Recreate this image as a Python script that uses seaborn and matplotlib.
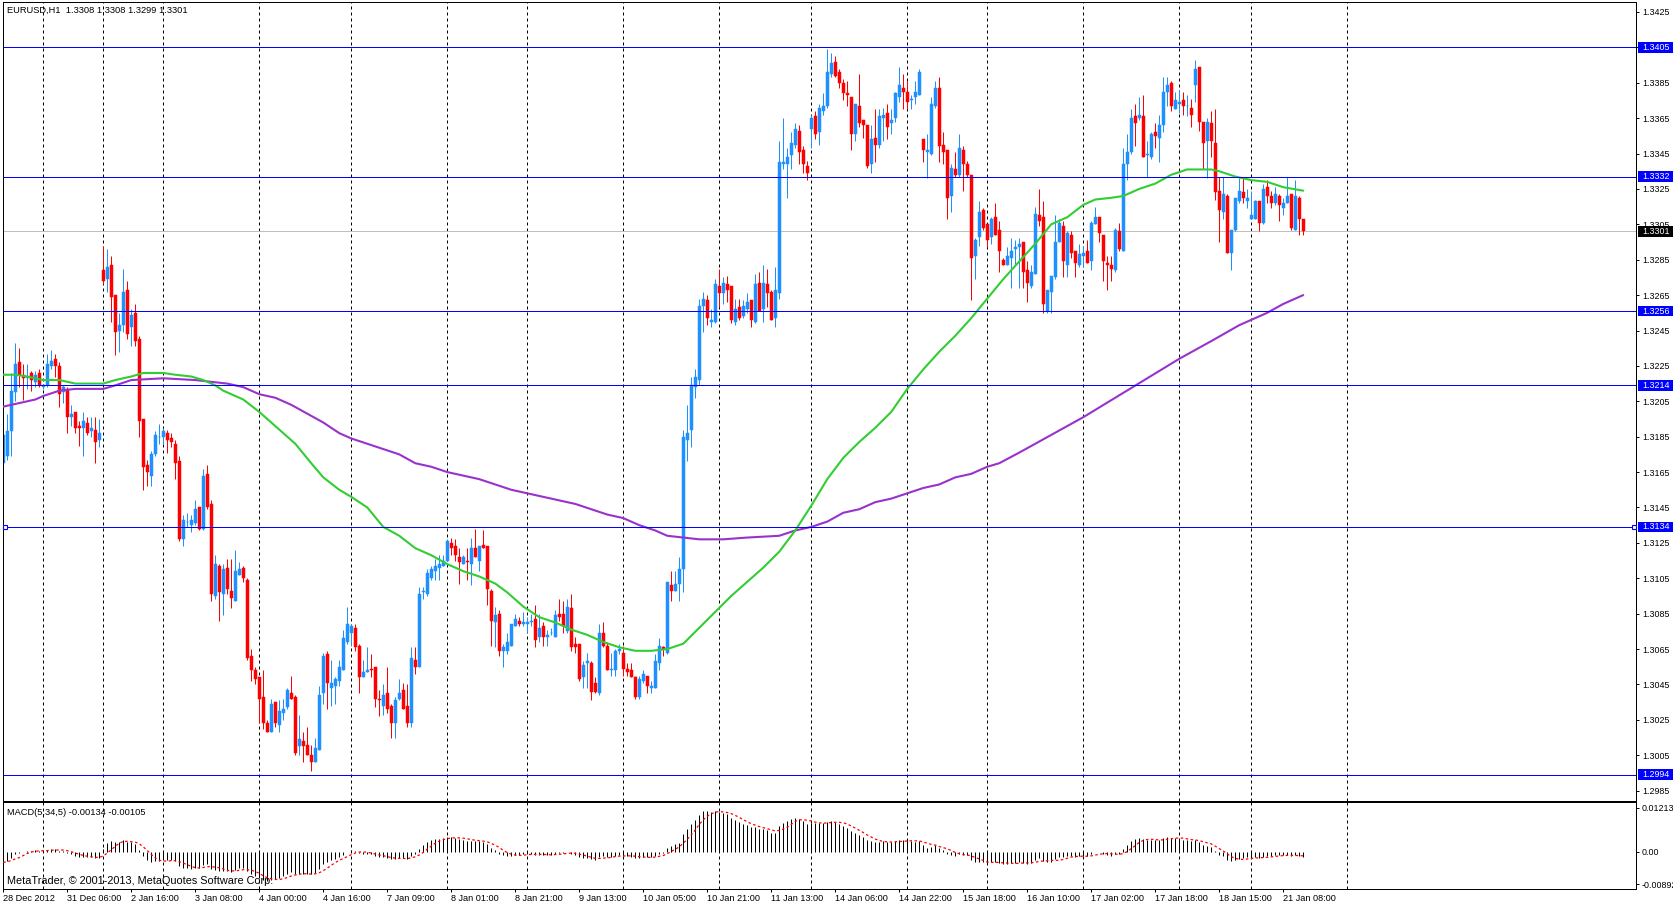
import numpy as np
import pandas as pd
import matplotlib
matplotlib.use("Agg")
import matplotlib.pyplot as plt
import matplotlib.transforms as mtransforms
from matplotlib.patches import Rectangle
import seaborn as sns

sns.set_theme(style="white")
plt.rcParams['font.family'] = ['Liberation Sans', 'DejaVu Sans']

# ---------------- data (EURUSD H1, one value per bar) ----------------
opens = [
    1.3170,1.3174,1.3188,1.3210,1.3227,1.3220,1.3218,1.3221,1.3216,1.3221,
    1.3213,1.3214,1.3225,1.3229,1.3225,1.3210,1.3212,1.3196,1.3199,1.3191,
    1.3190,1.3193,1.3188,1.3189,1.3183,1.3279,1.3274,1.3282,1.3265,1.3245,
    1.3248,1.3268,1.3247,1.3255,1.3240,1.3195,1.3169,1.3163,1.3175,1.3185,
    1.3185,1.3187,1.3184,1.3181,1.3171,1.3127,1.3137,1.3135,1.3136,1.3145,
    1.3133,1.3164,1.3147,1.3095,1.3112,1.3096,1.3111,1.3098,1.3092,1.3107,
    1.3111,1.3104,1.3061,1.3053,1.3049,1.3038,1.3023,1.3018,1.3035,1.3022,
    1.3029,1.3032,1.3040,1.3038,1.3010,1.3013,1.3011,1.3005,1.3001,1.3008,
    1.3040,1.3062,1.3043,1.3044,1.3047,1.3053,1.3069,1.3074,1.3077,1.3067,
    1.3049,1.3052,1.3054,1.3055,1.3037,1.3033,1.3040,1.3033,1.3023,1.3037,
    1.3042,1.3033,1.3023,1.3059,1.3055,1.3097,1.3096,1.3105,1.3109,1.3111,
    1.3112,1.3115,1.3125,1.3123,1.3117,1.3113,1.3115,1.3113,1.3122,1.3115,
    1.3124,1.3123,1.3098,1.3080,1.3085,1.3064,1.3064,1.3067,1.3078,1.3081,
    1.3079,1.3079,1.3080,1.3082,1.3072,1.3078,1.3072,1.3074,1.3072,1.3085,
    1.3085,1.3075,1.3088,1.3068,1.3068,1.3049,1.3057,1.3057,1.3046,1.3040,
    1.3074,1.3067,1.3053,1.3053,1.3064,1.3063,1.3054,1.3053,1.3049,1.3038,
    1.3047,1.3050,1.3043,1.3043,1.3057,1.3066,1.3063,1.3101,1.3098,1.3102,
    1.3110,1.3183,1.3189,1.3213,1.3217,1.3259,1.3262,1.3250,1.3250,1.3270,
    1.3266,1.3271,1.3270,1.3250,1.3258,1.3253,1.3257,1.3262,1.3250,1.3272,
    1.3257,1.3271,1.3267,1.3252,1.3266,1.3339,1.3339,1.3344,1.3350,1.3358,
    1.3347,1.3338,1.3359,1.3366,1.3357,1.3369,1.3372,1.3390,1.3397,1.3391,
    1.3385,1.3379,1.3377,1.3356,1.3372,1.3364,1.3361,1.3339,1.3354,1.3350,
    1.3365,1.3368,1.3362,1.3365,1.3377,1.3382,1.3380,1.3375,1.3377,1.3378,
    1.3353,1.3346,1.3345,1.3372,1.3382,1.3350,1.3347,1.3321,1.3336,1.3333,
    1.3347,1.3339,1.3333,1.3287,1.3298,1.3313,1.3305,1.3298,1.3309,1.3302,
    1.3285,1.3282,1.3286,1.3291,1.3292,1.3295,1.3279,1.3270,1.3277,1.3310,
    1.3309,1.3256,1.3267,1.3275,1.3295,1.3304,1.3282,1.3299,1.3290,1.3282,
    1.3287,1.3290,1.3284,1.3305,1.3309,1.3299,1.3283,1.3282,1.3279,1.3301,
    1.3290,1.3339,1.3346,1.3366,1.3365,1.3366,1.3344,1.3343,1.3357,1.3354,
    1.3361,1.3380,1.3385,1.3370,1.3373,1.3375,1.3372,1.3371,1.3384,1.3394,
    1.3363,1.3352,1.3362,1.3351,1.3324,1.3312,1.3321,1.3289,1.3302,1.3318,
    1.3323,1.3318,1.3308,1.3308,1.3318,1.3306,1.3326,1.3321,1.3317,1.3321,
    1.3314,1.3317,1.3322,1.3302,1.3320,1.3308]

highs = [
    1.3188,1.3198,1.3221,1.3238,1.3235,1.3226,1.3226,1.3222,1.3222,1.3223,
    1.3215,1.3232,1.3234,1.3232,1.3227,1.3214,1.3213,1.3203,1.3199,1.3194,
    1.3199,1.3196,1.3196,1.3196,1.3195,1.3293,1.3291,1.3287,1.3265,1.3255,
    1.3280,1.3273,1.3257,1.3260,1.3242,1.3195,1.3172,1.3177,1.3188,1.3192,
    1.3190,1.3189,1.3187,1.3183,1.3174,1.3141,1.3142,1.3141,1.3149,1.3145,
    1.3167,1.3169,1.3149,1.3118,1.3113,1.3113,1.3116,1.3116,1.3121,1.3114,
    1.3112,1.3105,1.3065,1.3055,1.3049,1.3053,1.3025,1.3037,1.3035,1.3036,
    1.3037,1.3043,1.3050,1.3039,1.3028,1.3018,1.3021,1.3011,1.3015,1.3044,
    1.3063,1.3064,1.3059,1.3049,1.3059,1.3076,1.3089,1.3079,1.3079,1.3068,
    1.3059,1.3066,1.3062,1.3055,1.3042,1.3045,1.3055,1.3034,1.3038,1.3048,
    1.3046,1.3045,1.3066,1.3066,1.3100,1.3100,1.3110,1.3112,1.3116,1.3118,
    1.3118,1.3127,1.3128,1.3127,1.3122,1.3118,1.3122,1.3128,1.3133,1.3123,
    1.3132,1.3123,1.3099,1.3089,1.3087,1.3068,1.3074,1.3079,1.3085,1.3083,
    1.3086,1.3083,1.3085,1.3090,1.3085,1.3080,1.3076,1.3077,1.3087,1.3093,
    1.3092,1.3093,1.3096,1.3072,1.3068,1.3058,1.3063,1.3058,1.3049,1.3079,
    1.3080,1.3069,1.3063,1.3065,1.3068,1.3067,1.3057,1.3057,1.3050,1.3050,
    1.3053,1.3050,1.3047,1.3062,1.3071,1.3067,1.3103,1.3109,1.3109,1.3117,
    1.3189,1.3203,1.3219,1.3223,1.3263,1.3267,1.3265,1.3257,1.3274,1.3280,
    1.3275,1.3276,1.3270,1.3263,1.3263,1.3262,1.3266,1.3262,1.3277,1.3278,
    1.3282,1.3280,1.3268,1.3281,1.3352,1.3365,1.3348,1.3357,1.3362,1.3361,
    1.3349,1.3341,1.3367,1.3369,1.3373,1.3379,1.3404,1.3402,1.3400,1.3393,
    1.3387,1.3386,1.3377,1.3373,1.3390,1.3364,1.3361,1.3361,1.3370,1.3370,
    1.3371,1.3373,1.3370,1.3380,1.3394,1.3390,1.3386,1.3378,1.3386,1.3393,
    1.3353,1.3356,1.3377,1.3386,1.3388,1.3357,1.3347,1.3339,1.3346,1.3356,
    1.3349,1.3341,1.3333,1.3297,1.3318,1.3314,1.3305,1.3309,1.3317,1.3307,
    1.3286,1.3292,1.3297,1.3296,1.3297,1.3295,1.3284,1.3282,1.3315,1.3325,
    1.3318,1.3268,1.3276,1.3310,1.3308,1.3307,1.3301,1.3301,1.3290,1.3294,
    1.3293,1.3296,1.3307,1.3315,1.3309,1.3299,1.3287,1.3287,1.3303,1.3306,
    1.3348,1.3356,1.3370,1.3373,1.3377,1.3378,1.3352,1.3357,1.3362,1.3367,
    1.3388,1.3388,1.3386,1.3380,1.3381,1.3380,1.3378,1.3376,1.3398,1.3394,
    1.3363,1.3365,1.3369,1.3370,1.3332,1.3332,1.3322,1.3302,1.3320,1.3331,
    1.3331,1.3325,1.3324,1.3319,1.3318,1.3328,1.3330,1.3324,1.3326,1.3322,
    1.3320,1.3332,1.3322,1.3330,1.3321,1.3308]

lows = [
    1.3168,1.3172,1.3174,1.3205,1.3213,1.3206,1.3212,1.3211,1.3213,1.3213,
    1.3212,1.3213,1.3223,1.3219,1.3202,1.3204,1.3187,1.3191,1.3187,1.3180,
    1.3174,1.3186,1.3185,1.3170,1.3179,1.3271,1.3267,1.3250,1.3231,1.3233,
    1.3244,1.3240,1.3236,1.3236,1.3185,1.3155,1.3157,1.3157,1.3174,1.3181,
    1.3181,1.3176,1.3179,1.3161,1.3126,1.3123,1.3134,1.3131,1.3135,1.3132,
    1.3132,1.3144,1.3092,1.3093,1.3081,1.3084,1.3096,1.3088,1.3092,1.3107,
    1.3103,1.3059,1.3047,1.3045,1.3023,1.3020,1.3018,1.3018,1.3021,1.3018,
    1.3025,1.3031,1.3037,1.3005,1.3005,1.3001,1.3005,1.2996,1.3001,1.3008,
    1.3034,1.3031,1.3033,1.3034,1.3044,1.3053,1.3068,1.3067,1.3064,1.3040,
    1.3049,1.3052,1.3049,1.3032,1.3027,1.3028,1.3029,1.3015,1.3015,1.3036,
    1.3031,1.3021,1.3021,1.3051,1.3055,1.3093,1.3095,1.3104,1.3104,1.3104,
    1.3112,1.3115,1.3118,1.3115,1.3102,1.3113,1.3104,1.3101,1.3117,1.3109,
    1.3122,1.3090,1.3067,1.3066,1.3061,1.3055,1.3062,1.3067,1.3078,1.3078,
    1.3078,1.3074,1.3078,1.3066,1.3069,1.3067,1.3067,1.3073,1.3072,1.3081,
    1.3074,1.3074,1.3064,1.3063,1.3047,1.3043,1.3043,1.3036,1.3040,1.3039,
    1.3066,1.3053,1.3050,1.3050,1.3062,1.3050,1.3050,1.3049,1.3037,1.3037,
    1.3046,1.3040,1.3040,1.3043,1.3053,1.3061,1.3062,1.3092,1.3098,1.3092,
    1.3097,1.3171,1.3179,1.3207,1.3214,1.3244,1.3248,1.3247,1.3249,1.3258,
    1.3260,1.3261,1.3249,1.3248,1.3251,1.3252,1.3255,1.3247,1.3249,1.3256,
    1.3250,1.3258,1.3251,1.3247,1.3263,1.3336,1.3320,1.3336,1.3348,1.3339,
    1.3334,1.3330,1.3348,1.3353,1.3350,1.3367,1.3371,1.3388,1.3388,1.3382,
    1.3375,1.3372,1.3347,1.3352,1.3360,1.3354,1.3337,1.3334,1.3340,1.3348,
    1.3352,1.3353,1.3356,1.3363,1.3374,1.3370,1.3370,1.3370,1.3373,1.3378,
    1.3340,1.3331,1.3344,1.3371,1.3340,1.3339,1.3308,1.3312,1.3332,1.3332,
    1.3324,1.3332,1.3262,1.3274,1.3293,1.3302,1.3292,1.3294,1.3299,1.3278,
    1.3282,1.3282,1.3269,1.3282,1.3269,1.3269,1.3261,1.3269,1.3277,1.3304,
    1.3255,1.3255,1.3255,1.3274,1.3295,1.3275,1.3275,1.3286,1.3275,1.3281,
    1.3281,1.3283,1.3279,1.3305,1.3295,1.3273,1.3268,1.3273,1.3278,1.3290,
    1.3290,1.3330,1.3345,1.3349,1.3364,1.3343,1.3332,1.3342,1.3348,1.3340,
    1.3357,1.3372,1.3369,1.3370,1.3368,1.3367,1.3366,1.3360,1.3374,1.3358,
    1.3336,1.3331,1.3343,1.3319,1.3295,1.3308,1.3289,1.3279,1.3301,1.3317,
    1.3317,1.3314,1.3308,1.3308,1.3301,1.3305,1.3317,1.3314,1.3316,1.3307,
    1.3310,1.3317,1.3302,1.3302,1.3299,1.3299]

closes = [
    1.3186,1.3188,1.3211,1.3226,1.3220,1.3218,1.3219,1.3217,1.3220,1.3214,
    1.3214,1.3226,1.3228,1.3225,1.3209,1.3213,1.3196,1.3198,1.3190,1.3190,
    1.3194,1.3187,1.3190,1.3182,1.3187,1.3273,1.3281,1.3264,1.3244,1.3248,
    1.3267,1.3243,1.3254,1.3239,1.3194,1.3168,1.3165,1.3175,1.3186,1.3185,
    1.3188,1.3183,1.3182,1.3170,1.3127,1.3138,1.3137,1.3138,1.3144,1.3133,
    1.3163,1.3145,1.3096,1.3113,1.3097,1.3110,1.3099,1.3094,1.3109,1.3110,
    1.3105,1.3060,1.3053,1.3048,1.3037,1.3023,1.3018,1.3034,1.3023,1.3030,
    1.3031,1.3042,1.3037,1.3006,1.3014,1.3010,1.3005,1.3001,1.3009,1.3039,
    1.3061,1.3046,1.3046,1.3048,1.3055,1.3071,1.3079,1.3078,1.3066,1.3049,
    1.3052,1.3053,1.3053,1.3037,1.3036,1.3039,1.3031,1.3023,1.3036,1.3040,
    1.3031,1.3023,1.3060,1.3055,1.3096,1.3098,1.3108,1.3110,1.3112,1.3113,
    1.3115,1.3126,1.3122,1.3118,1.3114,1.3117,1.3114,1.3122,1.3117,1.3123,
    1.3122,1.3099,1.3081,1.3084,1.3064,1.3066,1.3069,1.3079,1.3082,1.3079,
    1.3080,1.3080,1.3081,1.3070,1.3077,1.3072,1.3073,1.3074,1.3084,1.3083,
    1.3078,1.3089,1.3066,1.3066,1.3048,1.3056,1.3058,1.3041,1.3041,1.3074,
    1.3067,1.3053,1.3054,1.3064,1.3065,1.3054,1.3052,1.3049,1.3038,1.3048,
    1.3051,1.3044,1.3044,1.3058,1.3067,1.3065,1.3103,1.3098,1.3102,1.3110,
    1.3185,1.3187,1.3214,1.3219,1.3259,1.3263,1.3252,1.3251,1.3271,1.3266,
    1.3272,1.3268,1.3251,1.3257,1.3252,1.3259,1.3261,1.3251,1.3271,1.3256,
    1.3272,1.3266,1.3251,1.3268,1.3340,1.3340,1.3343,1.3351,1.3359,1.3346,
    1.3339,1.3334,1.3365,1.3356,1.3371,1.3372,1.3391,1.3396,1.3389,1.3385,
    1.3379,1.3378,1.3356,1.3373,1.3362,1.3361,1.3338,1.3353,1.3350,1.3366,
    1.3367,1.3360,1.3364,1.3379,1.3384,1.3380,1.3374,1.3376,1.3380,1.3391,
    1.3347,1.3347,1.3373,1.3382,1.3349,1.3346,1.3320,1.3337,1.3333,1.3348,
    1.3339,1.3333,1.3286,1.3296,1.3312,1.3303,1.3296,1.3308,1.3299,1.3290,
    1.3282,1.3287,1.3290,1.3292,1.3294,1.3278,1.3272,1.3278,1.3311,1.3307,
    1.3260,1.3268,1.3276,1.3295,1.3306,1.3284,1.3300,1.3289,1.3283,1.3288,
    1.3289,1.3283,1.3306,1.3309,1.3300,1.3284,1.3282,1.3280,1.3302,1.3291,
    1.3339,1.3346,1.3365,1.3362,1.3367,1.3343,1.3345,1.3356,1.3355,1.3361,
    1.3380,1.3384,1.3372,1.3375,1.3374,1.3372,1.3372,1.3367,1.3393,1.3363,
    1.3351,1.3363,1.3352,1.3323,1.3313,1.3322,1.3289,1.3302,1.3320,1.3324,
    1.3320,1.3320,1.3310,1.3318,1.3306,1.3325,1.3321,1.3317,1.3322,1.3316,
    1.3317,1.3321,1.3303,1.3321,1.3308,1.3301]

# moving averages (bar index, value)
ma_fast_bars = [0,3,6,10,14,18,20,25,28,32,35,40,43,47,50,53,55,60,64,66,70,73,77,80,84,87,
                91,95,99,103,107,111,115,119,123,126,130,134,138,142,146,150,154,158,162,166,
                170,174,178,182,186,190,194,198,202,206,210,214,218,222,226,230,234,238,242,
                246,250,254,258,262,266,270,273,277,280,284,288,292,296,300,302,304,308,312,
                316,320,325]
ma_fast_vals = [1.3220,1.3220,1.3219,1.3217,1.3217,1.3215,1.3215,1.3215,1.3217,1.3219,1.3221,
                1.3221,1.3220,1.3219,1.3217,1.3214,1.3211,1.3206,1.3199,1.3195,1.3187,1.3181,
                1.3170,1.3162,1.3155,1.3151,1.3145,1.3134,1.3129,1.3122,1.3118,1.3113,1.3109,
                1.3106,1.3102,1.3097,1.3089,1.3083,1.3080,1.3076,1.3073,1.3069,1.3066,1.3064,
                1.3064,1.3065,1.3068,1.3077,1.3086,1.3095,1.3103,1.3111,1.3120,1.3132,1.3146,
                1.3161,1.3173,1.3182,1.3190,1.3199,1.3212,1.3223,1.3233,1.3242,1.3252,1.3263,
                1.3274,1.3284,1.3294,1.3305,1.3309,1.3316,1.3319,1.3320,1.3321,1.3325,1.3328,
                1.3333,1.3336,1.3336,1.3336,1.3335,1.3332,1.3330,1.3329,1.3326,1.3324]

ma_slow_bars = [0,4,8,10,14,18,25,28,32,40,48,52,56,60,64,68,72,76,80,84,87,91,95,99,103,107,
                111,115,119,123,127,131,135,139,143,147,151,155,159,163,166,170,174,180,186,
                194,198,202,206,210,214,218,222,226,230,234,238,242,246,249,254,262,270,278,
                286,294,302,309,312,316,320,325]
ma_slow_vals = [1.3202,1.3204,1.3206,1.3208,1.3211,1.3212,1.3212,1.3214,1.3217,1.3218,1.3217,
                1.3216,1.3215,1.3213,1.3209,1.3207,1.3203,1.3198,1.3193,1.3187,1.3184,1.3181,
                1.3178,1.3175,1.3170,1.3168,1.3165,1.3163,1.3161,1.3158,1.3155,1.3153,1.3151,
                1.3149,1.3147,1.3144,1.3141,1.3139,1.3135,1.3132,1.3129,1.3128,1.3127,1.3127,
                1.3128,1.3129,1.3132,1.3134,1.3137,1.3142,1.3144,1.3148,1.3150,1.3153,1.3156,
                1.3158,1.3162,1.3164,1.3168,1.3170,1.3176,1.3186,1.3196,1.3207,1.3218,1.3229,
                1.3239,1.3248,1.3251,1.3255,1.3260,1.3265]

# MACD(5,34,5) state just before the first bar
macd_fast_seed = 1.3180
macd_slow_seed = 1.3212

level_lines = [1.3405, 1.3332, 1.3256, 1.3214, 1.3134, 1.2994]
bid_price = 1.3301
price_ticks = [1.2985, 1.3005, 1.3025, 1.3045, 1.3065, 1.3085, 1.3105, 1.3125, 1.3145,
               1.3165, 1.3185, 1.3205, 1.3225, 1.3245, 1.3265, 1.3285, 1.3305, 1.3325,
               1.3345, 1.3365, 1.3385, 1.3405, 1.3425]
macd_ticks = [0.01213, 0.0, -0.00892]
macd_tick_labels = ['0.01213', '0.00', '-0.00892']
date_tick_bars = [0, 16, 32, 48, 64, 80, 96, 112, 128, 144, 160, 176, 192, 208, 224, 240,
                  256, 272, 288, 304, 320]
date_tick_labels = ['28 Dec 2012', '31 Dec 06:00', '2 Jan 16:00', '3 Jan 08:00', '4 Jan 00:00',
                    '4 Jan 16:00', '7 Jan 09:00', '8 Jan 01:00', '8 Jan 21:00', '9 Jan 13:00',
                    '10 Jan 05:00', '10 Jan 21:00', '11 Jan 13:00', '14 Jan 06:00',
                    '14 Jan 22:00', '15 Jan 18:00', '16 Jan 10:00', '17 Jan 02:00',
                    '17 Jan 18:00', '18 Jan 15:00', '21 Jan 08:00']
grid_bars = [10, 25, 40, 64, 87, 111, 131, 155, 179, 202, 226, 246, 270, 294, 312, 336]

title_text = 'EURUSD,H1  1.3308 1.3308 1.3299 1.3301'
macd_text = 'MACD(5,34,5) -0.00134 -0.00105'
copyright_text = 'MetaTrader, \u00a9 2001-2013, MetaQuotes Software Corp.'

# ---------------- derived ----------------
n = min(len(opens), len(highs), len(lows), len(closes))
O = np.array(opens[:n]); Hh = np.array(highs[:n]); L = np.array(lows[:n]); C = np.array(closes[:n])
x = np.arange(n)
up = C >= O
BULL = '#1E90FF'
BEAR = '#FF0000'
cols = np.where(up, BULL, BEAR)

def ema(vals, span, seed):
    a = 2.0 / (span + 1.0)
    out = []
    prev = seed
    for v in vals:
        prev = prev + a * (v - prev)
        out.append(prev)
    return np.array(out)

macd = ema(C, 5, macd_fast_seed) - ema(C, 34, macd_slow_seed)
signal = pd.Series(macd).rolling(5, min_periods=1).mean().values

# ---------------- figure ----------------
W, Hpx = 1674, 906
fig = plt.figure(figsize=(W / 100, Hpx / 100), dpi=100, facecolor='white')
left = 2.7 / W
width = (1636 - 2.7) / W
ax = fig.add_axes([left, 1 - 800.7 / Hpx, width, (800.7 - 1.7) / Hpx])
axm = fig.add_axes([left, 1 - 889.3 / Hpx, width, (889.3 - 802.3) / Hpx])

PX = 0.72  # one pixel in points
xlim = (-0.15, 408.2)

for a in (ax, axm):
    a.set_facecolor('white')
    a.set_xlim(*xlim)
    for s in a.spines.values():
        s.set_color('black')
        s.set_linewidth(PX)
    for g in grid_bars:
        a.axvline(g, color='black', lw=PX, ls=(0, (3, 3)), zorder=0.5)

# candles
ax.vlines(x, L, Hh, colors=cols, lw=PX, zorder=2)
ax.bar(x, np.abs(C - O), bottom=np.minimum(O, C), width=0.75, color=cols,
       edgecolor=cols, linewidth=0.35, zorder=2.1)

# moving averages
sns.lineplot(x=ma_slow_bars, y=ma_slow_vals, ax=ax, color='#9932CC', lw=1.5, zorder=3,
             legend=False, estimator=None)
sns.lineplot(x=ma_fast_bars, y=ma_fast_vals, ax=ax, color='#32CD32', lw=1.5, zorder=3.1,
             legend=False, estimator=None)

# horizontal lines
ax.axhline(bid_price, color='#C0C0C0', lw=PX, zorder=1.5)
for lv in level_lines:
    ax.axhline(lv, color='#0000FF', lw=PX, zorder=4)
ax.plot([xlim[0] + 0.55, xlim[1] - 0.6], [level_lines[4]] * 2, ls='none', marker='s', ms=3.2,
        mfc='white', mec='#0000FF', mew=0.8, zorder=5, clip_on=False)

ax.set_ylim(1.29793, 1.34308)
ax.set_xticks([])
ax.yaxis.tick_right()
ax.set_yticks(price_ticks)
ax.set_yticklabels([f'{v:.4f}' for v in price_ticks])
ax.tick_params(axis='y', right=True, left=False, direction='out', length=2.2, width=PX,
               pad=2.6, labelsize=6.4, colors='black')
ax.set_xlabel(''); ax.set_ylabel('')

# price labels on the axis
blend = mtransforms.blended_transform_factory(fig.transFigure, ax.transData)
box_h = 0.00060
for lv, bg in [(l, '#0000FF') for l in level_lines] + [(bid_price, '#000000')]:
    ax.add_patch(Rectangle((1638.3 / W, lv - box_h / 2), 1 - 1638.3 / W, box_h,
                           transform=blend, facecolor=bg, edgecolor='none',
                           clip_on=False, zorder=10))
    ax.text(1642.7 / W, lv, f'{lv:.4f}', transform=blend, color='white', fontsize=6.4,
            va='center', ha='left', zorder=11, clip_on=False)

fig.text(7.3 / W, 1 - 10.7 / Hpx, title_text, fontsize=6.7, color='black', va='center', ha='left')

# MACD pane
axm.vlines(x, 0, macd, colors='black', lw=PX, zorder=2)
axm.plot(x, signal, color='red', lw=0.9, ls=(0, (2, 2)), zorder=3)
axm.set_ylim(-0.01025, 0.01365)
axm.yaxis.tick_right()
axm.set_yticks(macd_ticks)
axm.set_yticklabels(macd_tick_labels)
axm.tick_params(axis='y', right=True, left=False, direction='out', length=2.2, width=PX,
                pad=1.5, labelsize=6.4, colors='black')
axm.set_xticks(date_tick_bars)
axm.set_xticklabels(date_tick_labels)
axm.tick_params(axis='x', bottom=True, direction='out', length=2.2, width=PX, pad=1.2,
                labelsize=6.6, colors='black')
for lab in axm.get_xticklabels():
    lab.set_ha('left')
axm.set_xlabel(''); axm.set_ylabel('')

fig.text(7.0 / W, 1 - 812.7 / Hpx, macd_text, fontsize=6.7, color='black', va='center', ha='left')
fig.text(7.0 / W, 1 - 881.3 / Hpx, copyright_text, fontsize=7.8, color='black', va='center',
         ha='left')

fig.savefig('out.png', dpi=100, facecolor='white')
